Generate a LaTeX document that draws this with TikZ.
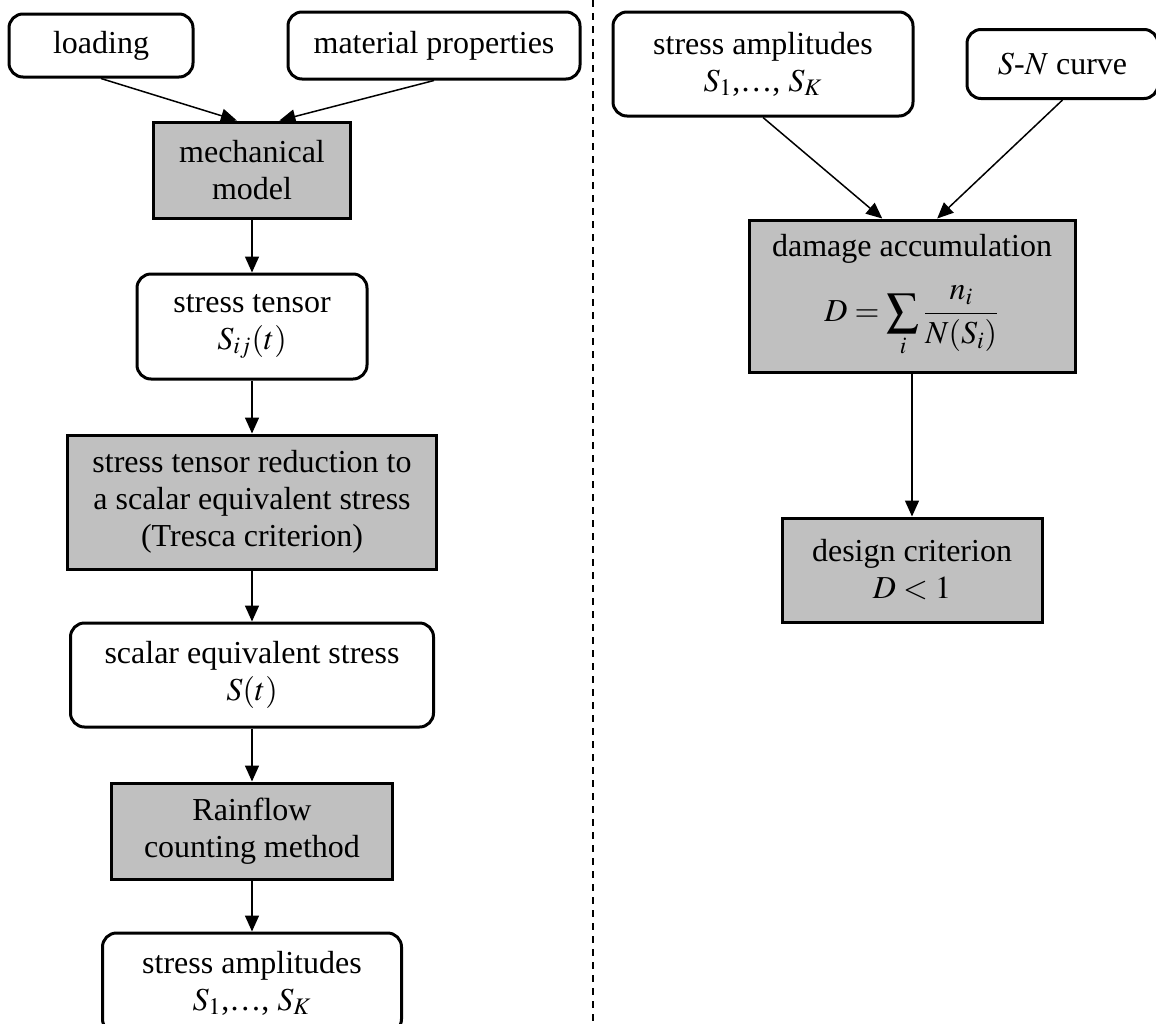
\documentclass[tikz,border=0pt]{standalone}
\usepackage{amsmath}
\usepackage{mathptmx}
\usepackage[no-math]{fontspec}
\setmainfont{Liberation Serif}
\usepackage{tikz}
\usetikzlibrary{positioning}
\usetikzlibrary{arrows.meta}

\definecolor{boxgray}{HTML}{C0C0C0}

\begin{document}
\begin{tikzpicture}[x=0.5pt, y=-0.5pt, node distance=26.5pt,
    font=\fontsize{16}{18.5}\selectfont,
    data/.style = {draw, line width=1.5pt, rounded corners=7pt, align=center, inner sep=0pt},
    proc/.style = {draw, line width=1.5pt, fill=boxgray, align=center, inner sep=0pt},
    arr/.style = {-{Triangle[length=8pt,width=7pt]}, line width=0.75pt}]
    \useasboundingbox (0,0) rectangle (1156,1023);
    % left column
    \node[data, minimum width=92pt, minimum height=31.5pt](load) at (101,45.5){loading};
    \node[data, minimum width=146pt, minimum height=33.5pt](matprop)[right=46pt of load]{material properties};
    \node[proc, minimum width=98.5pt, minimum height=48pt](mech) at (252,170){mechanical\\ model};
    \node[data, minimum width=115pt, minimum height=52.5pt](tensor)[below=of mech]{stress tensor\\ $S_{ij}(t)$};
    \node[proc, minimum width=184.5pt, minimum height=67pt](reduct)[below=of tensor]{stress tensor reduction to\\ a scalar equivalent stress\\ (Tresca criterion)};
    \node[data, minimum width=181.5pt, minimum height=52pt](scalar)[below=25.5pt of reduct]{scalar equivalent stress\\ $S(t)$};
    \node[proc, minimum width=140.5pt, minimum height=48pt](rainflow)[below=of scalar]{Rainflow\\ counting method};
    \node[data, minimum width=149.5pt, minimum height=50pt](amplL)[below=25.5pt of rainflow]{stress amplitudes\\ $S_1$,\ldots, $S_K$};
    \draw[arr] (load.south) -- (mech.107);
    \draw[arr] (matprop.south) -- (mech.61);
    \draw[arr] (mech) -- (tensor);
    \draw[arr] (tensor) -- (reduct);
    \draw[arr] (reduct) -- (scalar);
    \draw[arr] (scalar) -- (rainflow);
    \draw[arr] (rainflow) -- (amplL);
    % separator
    \coordinate (sepTop) at (593,0);
    \coordinate (sepBot) at (593,1023);
    \draw[dashed, line width=0.8pt, dash pattern=on 3.5pt off 3pt] (sepTop) -- (sepBot);
    % right column
    \node[data, minimum width=150pt, minimum height=52pt](amplR) at (763,64){stress amplitudes\\ $S_1$,\ldots, $S_K$};
    \node[data, minimum width=95.5pt, minimum height=34.5pt](sncurve)[right=25.5pt of amplR]{$S$-$N$ curve};
    \node[proc, minimum width=163pt, minimum height=76pt](damage) at (912,296){damage accumulation\\[10pt] $\displaystyle D=\sum_i\frac{n_i}{N(S_i)}$};
    \node[proc, minimum width=130pt, minimum height=52pt](design)[below=71.5pt of damage]{design criterion\\ $D<1$};
    \draw[arr] (amplR.south) -- (damage.111);
    \draw[arr] (sncurve.south) -- (damage.72);
    \draw[arr] (damage) -- (design);
\end{tikzpicture}
\end{document}
